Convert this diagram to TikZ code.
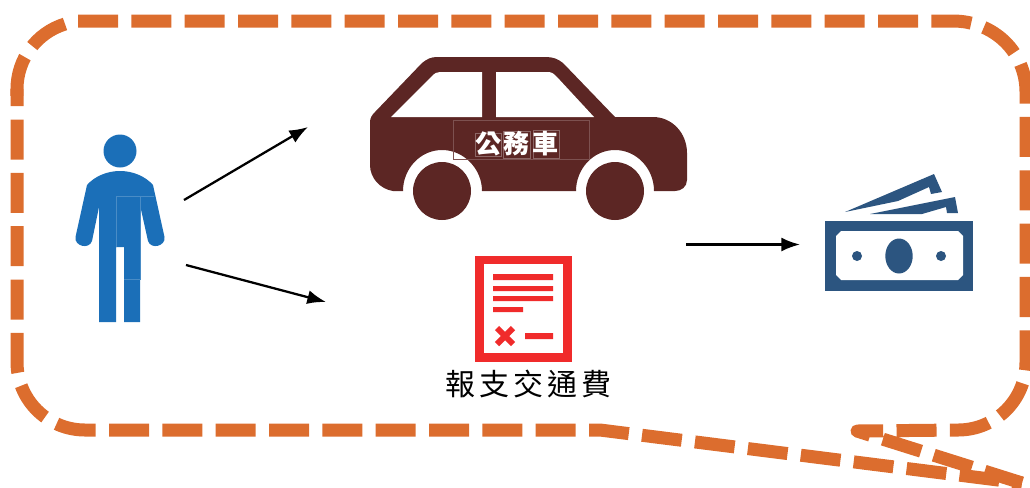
\documentclass[tikz,border=0pt]{standalone}
\usepackage{fontspec}
\newfontfamily\cjk{Noto Sans CJK TC}
\usetikzlibrary{arrows.meta}
\definecolor{calloutorange}{RGB}{220,109,46}
\definecolor{carbrown}{RGB}{92,38,36}
\definecolor{personblue}{RGB}{27,111,184}
\definecolor{moneyblue}{RGB}{44,85,128}
\definecolor{receiptred}{RGB}{240,43,43}
\tikzset{every picture/.style={line width=0.75pt}}
\tikzset{
  calloutline/.style={draw=calloutorange,line width=9.75pt,dash pattern=on 30pt off 10pt,line join=round},
  flowarrow/.style={-{Latex[length=14pt,width=10.5pt]},line width=1.7pt},
  seam/.style={line width=0.4pt},
}

\begin{document}
\begin{tikzpicture}[x=0.75pt,y=0.75pt,yscale=-1,xscale=1]
\path[use as bounding box] (0,0) rectangle (1030,487);

%Shape: Callout, top edge round to the tail
\draw [calloutline]  (78,21) -- (953,21) .. controls (993.3,21) and (1026,51.7) .. (1026,92) -- (1026,362) .. controls (1026,399.6) and (995.6,430) .. (958,430) -- (857,431) -- (1022,483) ;
%Shape: Callout, top left corner
\draw [calloutline]  (65,24) arc [start angle=252.9,end angle=180,radius=68] -- (17,100) ;
%Shape: Callout, long side of the tail
\draw [calloutline]  (589,430) -- (600,430) -- (1022,483) ;
%Shape: Callout, bottom edge and left side
\draw [calloutline,dash phase=30pt]  (589,430) -- (85,430) .. controls (47.4,430) and (17,399.6) .. (17,362) -- (17,89) ;

%Shape: Person
\fill [personblue] (120,151) circle (16.5) ;
\fill [personblue] (120,171) .. controls (106,171) and (94,177) .. (87,185) -- (75.5,237) .. controls (74,246) and (89,250) .. (92,241) -- (99,207) -- (99,322) -- (116,322) -- (116,247) -- (124,247) -- (124,322) -- (140,322) -- (140,205) -- (148,241) .. controls (151,250) and (166,246) .. (164.5,237) -- (153,185) .. controls (146,177) and (134,171) .. (120,171) -- cycle ;
\draw [seam,color=personblue!80!white] (116,247) -- (116,196) -- (154,196) (140,196) -- (140,279) -- (124,279) ;

%Shape: Car
\fill [carbrown] (375,112) -- (422,63) .. controls (427,59) and (431,57) .. (437,57) -- (546,57) .. controls (553,57) and (558,59) .. (563,63) -- (615,117) -- (653,117) .. controls (672,117) and (687,133) .. (687,153) -- (687,180) .. controls (687,187) and (681,191) .. (675,191) -- (654,191) .. controls (654,169) and (637,150) .. (615,150) .. controls (593,150) and (576,169) .. (576,191) -- (482,191) .. controls (482,169) and (464,150) .. (442,150) .. controls (420,150) and (403,169) .. (403,191) -- (393,191) .. controls (380,189) and (370,178) .. (370,165) -- (370,122) .. controls (370,118) and (372,115) .. (375,112) -- cycle ;
\fill [white] (391,117) -- (432,76) .. controls (435,73) and (437,72) .. (440,72) -- (482,72) -- (482,117) -- cycle ;
\fill [white] (496,72) -- (548,72) .. controls (552,72) and (554,74) .. (557,77) -- (594,117) -- (496,117) -- cycle ;
\fill [carbrown] (442,191) circle (29) ;
\fill [carbrown] (615,191) circle (29) ;
\draw [seam,color=carbrown!80!white] (453,120) rectangle (589,159) ;
\draw [seam,color=carbrown!70!white] (475,133) rectangle (501,156) (503,131) rectangle (530,158) (533,130) rectangle (559,158) ;

%Shape: Money
\fill [moneyblue] (845,212) -- (934,174) -- (942,192) -- (931,194) -- (929,187) -- (898,201) -- cycle ;
\fill [moneyblue] (870,214) -- (955,197) -- (958,213) -- (947,213) -- (946,207) -- (922,214) -- cycle ;
\fill [moneyblue] (825,221) rectangle (973,291) ;
\fill [white] (841,231) -- (958,231) -- (963,236) -- (963,275) -- (958,280) -- (841,280) -- (836,275) -- (836,236) -- cycle ;
\fill [moneyblue] (899,256) ellipse (13.7 and 17.5) ;
\fill [moneyblue] (857,256) circle (5) ;
\fill [moneyblue] (941,256) circle (5) ;

%Shape: Receipt
\fill [receiptred] (475,256) rectangle (572,362) ;
\fill [white] (484,264) rectangle (563,353) ;
\fill [receiptred] (493,274) rectangle (553,280) (493,286) rectangle (553,291) (493,296) rectangle (553,301) (493,307) rectangle (523,312) (525,333) rectangle (553,339) ;
\draw [receiptred,line width=4.5pt] (497,328) -- (513,344) (513,328) -- (497,344) ;

% Text Node
\draw (517,144) node (carlabel) [inner sep=0.75pt,color=white] {\cjk\bfseries\fontsize{19.5}{20}\selectfont 公\hspace{2pt}務\hspace{2pt}車};
% Text Node
\draw (528.5,384) node (receiptlabel) [inner sep=0.75pt] {\cjk\fontsize{22.5}{24}\selectfont 報\hspace{3pt}支\hspace{3pt}交\hspace{3pt}通\hspace{3pt}費};

%Straight Lines
\coordinate (persontop) at (184,200);
\coordinate (personlow) at (186,265);
\coordinate (cartip) at (308,127);
\coordinate (receipttip) at (326,302);
\coordinate (expensestart) at (686,244.5);
\coordinate (moneytip) at (800,244.5);
\draw [flowarrow] (persontop) -- (cartip) ;
\draw [flowarrow] (personlow) -- (receipttip) ;
\draw [flowarrow] (expensestart) -- (moneytip) ;

\end{tikzpicture}
\end{document}
